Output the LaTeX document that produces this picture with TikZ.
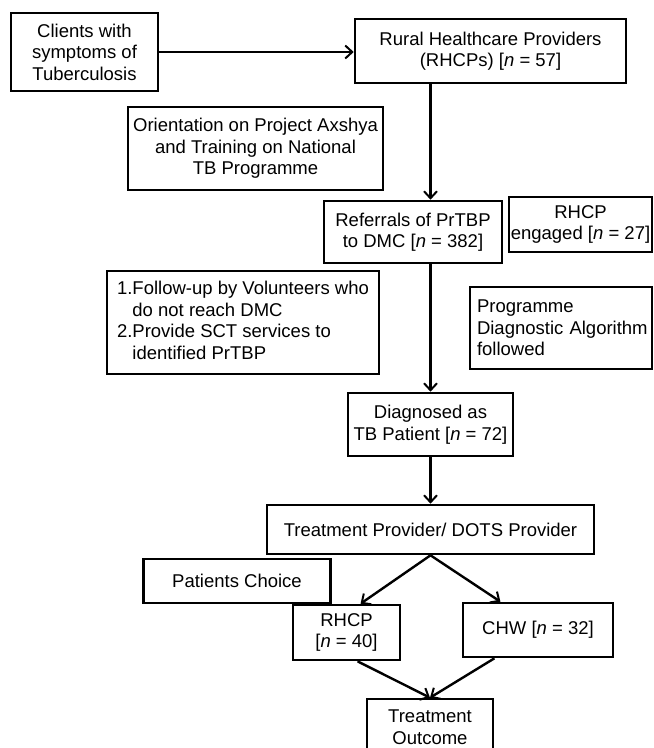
\documentclass[tikz,border=0pt]{standalone}
\usepackage{fontspec}
\setmainfont{Liberation Sans}
\usetikzlibrary{arrows.meta, positioning, calc}
\newcommand{\tbfont}{\fontsize{18.5}{21.5}\selectfont}
\tikzset{
  tbbox/.style={rectangle, draw=black, line width=2.6pt, fill=white, inner sep=0pt,
                align=center, font=\tbfont},
  tbflow/.style={-{Straight Barb[length=7pt, width=13pt, line width=2pt]}, line width=2.4pt},
}
\begin{document}
\begin{tikzpicture}[x=1pt, y=-1pt]
  \useasboundingbox (0,0) rectangle (654,748);
  \node[tbbox, minimum width=147, minimum height=78] (clients) at (84.5,52)
    {Clients with\\symptoms of\\Tuberculosis};
  \node[tbbox, minimum width=271, minimum height=64] (rhcps) at (490.5,51)
    {Rural Healthcare Providers\\(RHCPs) [\textit{n} = 57]};
  \node[tbbox, minimum width=255, minimum height=83] (orient) at (255.5,148.5)
    {Orientation on Project Axshya\\and Training on National\\TB Programme};
  \node[tbbox, minimum width=178, minimum height=62] (refer) at (413,232)
    {Referrals of PrTBP\\to DMC [\textit{n} = 382]};
  \node[tbbox, minimum width=143, minimum height=55] (engaged) at (580.5,224.5)
    {RHCP\\engaged [\textit{n} = 27]};
  \node[tbbox, minimum width=272, minimum height=103, align=left] (follow) at (243,322.5)
    {\begin{tabular}{@{}l@{}l@{}}
      1.&Follow-up by Volunteers who\\
        &do not reach DMC\\
      2.&Provide SCT services to\\
        &identified PrTBP
     \end{tabular}};
  \node[tbbox, minimum width=182, minimum height=82, align=left, text width=168] (algo) at (561,328)
    {Programme\\\mbox{Diagnostic Algorithm}\\followed};
  \node[tbbox, minimum width=165, minimum height=63] (diag) at (430.5,424.5)
    {Diagnosed as\\TB Patient [\textit{n} = 72]};
  \node[tbbox, minimum width=327, minimum height=49] (tp) at (430.5,529.5)
    {Treatment Provider/ DOTS Provider};
  \node[tbbox, minimum width=187, minimum height=44] (choice) at (237,581)
    {Patients Choice};
  \node[tbbox, minimum width=107, minimum height=55] (rhcp) at (346.5,632.5)
    {RHCP\\{}[\textit{n} = 40]};
  \node[tbbox, minimum width=150, minimum height=54] (chw) at (538,630)
    {CHW [\textit{n} = 32]};
  \node[tbbox, minimum width=126, minimum height=56] (outcome) at (430,727)
    {Treatment\\Outcome};
  % main spine
  \draw[tbflow] (clients.east) -- (rhcps.west |- clients.east);
  \draw[tbflow] (rhcps.south -| diag) -- (refer.north -| diag);
  \draw[tbflow] (refer.south -| diag) -- (diag.north);
  \draw[tbflow] (diag.south) -- (tp.north);
  % split by patients choice
  \draw[tbflow] (tp.south) -- (rhcp.64);
  \draw[tbflow] (tp.south) -- (chw.143);
  \draw[tbflow] (rhcp.-69) -- (outcome.north);
  \draw[tbflow] (chw.-147) -- (outcome.north);
\end{tikzpicture}
\end{document}
